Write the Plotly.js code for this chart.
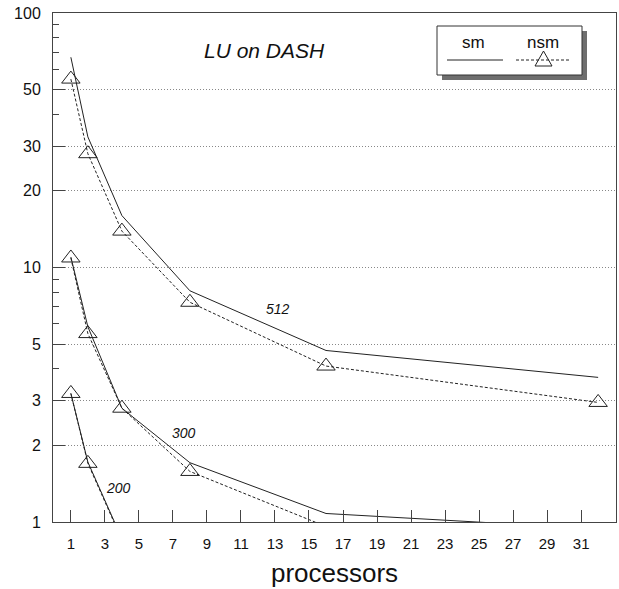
<!DOCTYPE html>
<html>
<head>
<meta charset="utf-8">
<script src="https://cdn.plot.ly/plotly-3.0.1.min.js"></script>
<style>html,body{margin:0;padding:0;background:#fff;}#chart{width:619px;height:589px;}</style>
</head>
<body>
<div id="chart"></div>
<script>
// ---- data ----
const procs = [1, 2, 4, 8, 16, 32];
const sm512  = [67, 32.6, 16, 8.1, 4.72, 3.7];
const nsm512 = [55, 28, 13.9, 7.3, 4.1, 2.95];
const sm300  = [11, 5.85, 2.8, 1.71, 1.08, 0.94];
const nsm300 = [10.9, 5.5, 2.8, 1.58, 0.96, 0.78];
const sm200  = [3.2, 1.72, 0.86, 0.45, 0.25, 0.14];
const nsm200 = [3.2, 1.7, 0.85, 0.44, 0.24, 0.13];
const xTicks = [1,3,5,7,9,11,13,15,17,19,21,23,25,27,29,31];
const yTicks = [1,2,3,5,10,20,30,50,100];
const yMinor = [4,6,7,8,9,40,60,70,80,90];
const seriesLabels = [{text:'512', x:13.2, y:6.87}, {text:'300', x:7.65, y:2.24}, {text:'200', x:3.82, y:1.36}];

const lineCol = '#222';
const FONT = 'Liberation Sans, Arial, Helvetica, sans-serif';
const Y_MIN = 1;

function smTrace(y){ return {x: procs, y: y, type:'scatter', mode:'lines', line:{color:lineCol, width:1}, showlegend:false, hoverinfo:'skip'}; }
function nsmTrace(y){ return {x: procs, y: y, type:'scatter', mode:'lines+markers', line:{color:lineCol, width:1, dash:'3px,2px'},
  marker:{symbol:'triangle-up-open', size:16, color:lineCol, opacity: y.map(v => v >= Y_MIN ? 1 : 0), line:{width:1, color:lineCol}}, showlegend:false, hoverinfo:'skip'}; }

const data = [smTrace(sm512), nsmTrace(nsm512), smTrace(sm300), nsmTrace(nsm300), smTrace(sm200), nsmTrace(nsm200)];

// plot area in pixels
const L=53, R=616, T=13, B=522;
const px = v => (v - L) / (R - L);
const py = v => (B - v) / (B - T);

const shapes = [
  {type:'rect', xref:'paper', yref:'paper', x0:px(442), x1:px(587), y0:py(80), y1:py(31), fillcolor:'#6e6e6e', line:{width:0}},
  {type:'rect', xref:'paper', yref:'paper', x0:px(437), x1:px(582), y0:py(75), y1:py(26), fillcolor:'#ffffff', line:{color:'#333', width:1}},
  {type:'line', xref:'paper', yref:'paper', x0:px(447), x1:px(503), y0:py(60), y1:py(60), line:{color:lineCol, width:1}},
  {type:'line', xref:'paper', yref:'paper', x0:px(516), x1:px(570), y0:py(60), y1:py(60), line:{color:lineCol, width:1, dash:'3px,2px'}},
  {type:'path', xref:'paper', yref:'paper', path:'M '+px(535)+','+py(66)+' L '+px(552)+','+py(66)+' L '+px(543.5)+','+py(51)+' Z', fillcolor:'rgba(255,255,255,0)', line:{color:lineCol, width:1}}
];

const ann = (x, y, text, size) => ({xref:'paper', yref:'paper', x:px(x), y:py(y), xanchor:'center', yanchor:'middle', text:text, showarrow:false, font:{family:FONT, size:size, color:'#111'}});
const annotations = [
  ann(264, 50, '<i>LU on DASH</i>', 21),
  ann(473, 43, 'sm', 17),
  ann(543, 43, 'nsm', 17)
].concat(seriesLabels.map(s => ({x:s.x, y:Math.log10(s.y), xref:'x', yref:'y', xanchor:'center', yanchor:'middle', text:'<i>'+s.text+'</i>', showarrow:false, font:{family:FONT, size:14, color:'#111'}})));

const layout = {
  width:619, height:589,
  margin:{l:L, r:619-R, t:T, b:589-B, pad:0},
  paper_bgcolor:'#fff', plot_bgcolor:'#fff',
  font:{family:FONT, color:'#111'},
  showlegend:false,
  xaxis:{range:[-0.05,33.05], tickvals:xTicks, ticktext:xTicks.map(String), ticks:'inside', ticklen:12, tickcolor:'#444', tickwidth:1,
    showline:true, mirror:true, linecolor:'#444', linewidth:1, showgrid:false, zeroline:false,
    tickfont:{family:FONT, size:15, color:'#111'}, ticklabelstandoff:8,
    title:{text:'processors', font:{family:FONT, size:26, color:'#111'}, standoff:12}},
  yaxis:{type:'log', range:[0,2], tickvals:yTicks, ticktext:yTicks.map(String), ticks:'inside', ticklen:12, tickcolor:'#444', tickwidth:1,
    showline:true, mirror:true, linecolor:'#444', linewidth:1, showgrid:true, gridcolor:'#888', gridwidth:1, griddash:'1px,2px', zeroline:false,
    minor:{tickvals:yMinor, ticks:'inside', ticklen:6, tickcolor:'#444', showgrid:false},
    tickfont:{family:FONT, size:16, color:'#111'}, ticklabelstandoff:8},
  shapes:shapes, annotations:annotations
};

Plotly.newPlot('chart', data, layout, {staticPlot:true, displayModeBar:false});
</script>
</body>
</html>
